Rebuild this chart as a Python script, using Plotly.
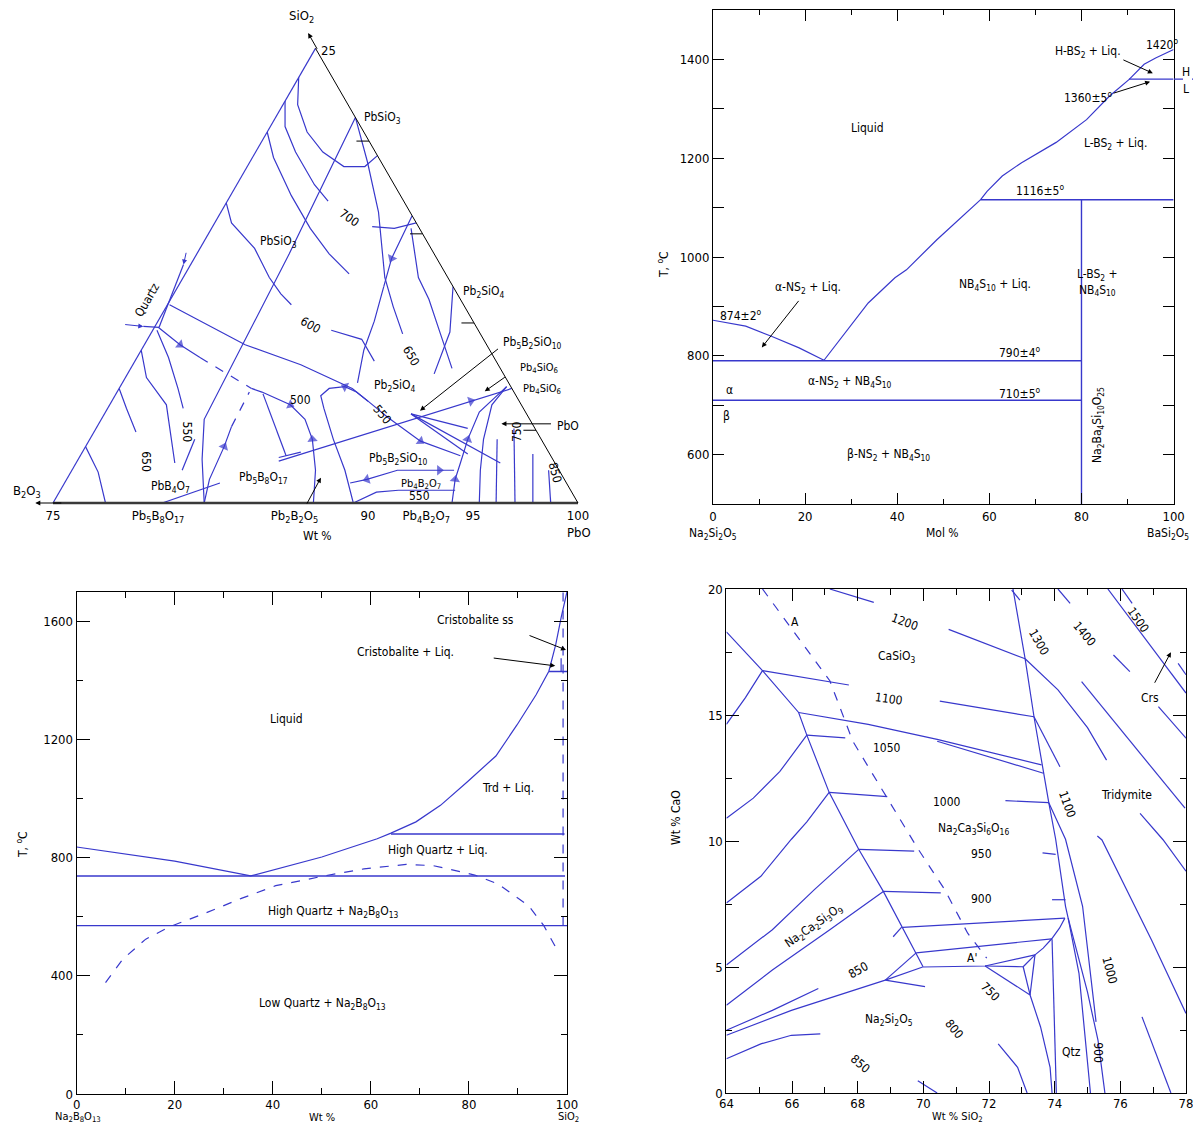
import math
import plotly.graph_objects as go

# page body adds an 8 px margin around the figure
OFF = 8
PAGE_W, PAGE_H = 1201, 1132
W, H = PAGE_W - 2 * OFF, PAGE_H - 2 * OFF
BLUE = '#3838cc'
FONT = 'Liberation Sans Narrow, DejaVu Sans Condensed, Roboto Condensed, Liberation Sans, Arial, sans-serif'

# ---------------- Top-right: Na2Si2O5 - BaSi2O5 (Mol %) ----------------
tr_liq_left_x = [0, 7.1, 12.8, 18.7, 24.1]
tr_liq_left_t = [872, 860, 839, 816, 791]
tr_liq_right_x = [24.1, 33.7, 39.5, 42, 48.6, 55.3, 58.1, 59.5, 62.8, 67, 74.5, 81.1, 86.1, 90.3, 93.6, 96.1, 100]
tr_liq_right_t = [791, 907, 958, 974, 1035, 1093, 1116, 1133, 1164, 1191, 1232, 1278, 1326, 1359, 1390, 1403, 1420]
tr_iso_t = [1116, 790, 710, 1360]
tr_iso_x0 = [58.1, 0, 0, 90.3]
tr_iso_x1 = [100, 80, 80, 100]
tr_compound_x = 80
tr_compound_t = [500, 1116]

# ---------------- Bottom-left: Na2B8O13 - SiO2 (Wt %) ----------------
bl_liq_x = [0, 20, 35.5, 50, 61.3, 64.1, 69.2, 74.2, 79.7, 85.5, 89.8, 93.7, 96.3, 97.7, 98.8, 100]
bl_liq_t = [836, 788, 738, 802, 864, 883, 921, 977, 1057, 1144, 1249, 1351, 1431, 1521, 1612, 1700]
bl_iso_t = [880, 738, 570, 1430]
bl_iso_x0 = [64.1, 0, 0, 96.3]
bl_iso_x1 = [99.5, 99.6, 100, 100]
bl_meta_x = [5.9, 9.4, 14.1, 19.1, 25.8, 33.6, 40.6, 50.8, 58.6, 67.2, 72.7, 81.2, 85.9, 92.2, 95.3, 98.1]
bl_meta_t = [377, 456, 524, 567, 609, 662, 705, 739, 762, 777, 773, 741, 711, 637, 569, 484]
bl_ss_x = [99.2, 99.2]
bl_ss_t = [570, 1700]
bl_box_x = [98.8, 98.8]
bl_box_t = [1430, 1475]

# ---------------- Bottom-right: liquidus projection (Wt % SiO2 vs Wt % CaO) ----------------
br_dashed_x = [65.1, 67.15, 67.85, 69.83, 70.65, 71.35, 71.93]
br_dashed_y = [20, 16.36, 13.96, 9.7, 8.07, 6.34, 5.35]
br_lines = [
    ([64, 65.1, 66.2, 66.45, 67.13, 67.85, 68.03, 68.78, 69.37, 69.78, 69.99],
     [18.3, 16.76, 15.1, 14.2, 11.93, 10.07, 9.67, 8.0, 6.54, 5.57, 5.01]),
    ([65.1, 64.58, 64], [16.76, 15.69, 14.63]),
    ([65.1, 67.73], [16.76, 16.19]),
    ([66.2, 68.32, 70.42, 73.6], [15.1, 14.63, 14.03, 13.02]),
    ([70.42, 73.66], [13.96, 12.69]),
    ([66.45, 67.62], [14.2, 14.09]),
    ([67.13, 68.9], [11.93, 11.76]),
    ([68.03, 69.72], [9.67, 9.6]),
    ([68.78, 70.53], [8.0, 7.94]),
    ([69.37, 74.31], [6.57, 6.94]),
    ([69.78, 73.91], [5.56, 6.12]),
    ([69.98, 71.88, 73.4], [5.0, 5.04, 5.48]),
    ([71.88, 73.04], [5.04, 5.01]),
    ([73.04, 73.4], [5.01, 5.48]),
    ([73.04, 73.25], [5.01, 3.89]),
    ([73.4, 73.25], [5.48, 3.89]),
    ([71.88, 73.25], [5.04, 3.89]),
    ([73.4, 73.65, 73.91, 74.15, 74.31], [5.48, 5.75, 6.12, 6.55, 6.94]),
    ([73.92, 74.05], [6.1, 0]),
    ([73.25, 73.57, 73.86, 73.92], [3.89, 2.62, 1.02, 0]),
    ([72.73, 73.1, 73.37, 73.63, 73.69, 73.82, 74.03, 74.33, 74.41, 74.74, 75.09],
     [20, 17.23, 14.93, 12.92, 12.63, 11.52, 10.07, 7.41, 6.94, 4.75, 0]),
    ([73.82, 74.33, 74.85, 75.26], [11.52, 10.07, 7.41, 2.82]),
    ([74.41, 75.0, 75.32, 75.53], [6.94, 4.0, 2.09, 0]),
    ([73.1, 74.1, 75.0, 75.58], [17.23, 16.0, 14.5, 13.21]),
    ([73.37, 74.16], [14.93, 12.95]),
    ([70.77, 73.1], [18.4, 17.23]),
    ([70.5, 73.37], [15.55, 14.93]),
    ([72.5, 73.82], [11.6, 11.52]),
    ([73.63, 74.03], [9.53, 9.47]),
    ([73.92, 74.33], [7.67, 7.67]),
    ([67.15, 68.49], [20, 19.47]),
    ([72.69, 72.94], [19.96, 19.56]),
    ([74.1, 74.47], [20, 19.43]),
    ([75.62, 78.0], [20, 15.87]),
    ([76.05, 76.36], [20, 19.43]),
    ([75.79, 76.29], [17.38, 16.72]),
    ([74.82, 77.97], [16.32, 11.3]),
    ([77.16, 78.0], [15.33, 14.08]),
    ([77.76, 78.0], [17.05, 16.6]),
    ([76.6, 77.3, 78.0], [11.1, 10.05, 8.8]),
    ([75.3, 75.44, 76.95, 78.0], [10.2, 10.04, 6.07, 3.16]),
    ([76.66, 77.54], [3.02, 0]),
    ([64, 64.82, 65.63, 66.45], [10.9, 11.7, 12.76, 14.2]),
    ([64, 65.05, 65.98, 66.45, 67.13], [7.54, 8.6, 10.07, 10.76, 11.93]),
    ([64, 65.4, 66.68, 68.03], [5.08, 6.48, 8.07, 9.67]),
    ([64, 65.4, 67.15, 68.78], [3.48, 4.88, 6.48, 8.0]),
    ([64, 65.4, 66.8], [2.49, 3.28, 4.15]),
    ([64, 65.98, 68.84], [2.29, 3.28, 4.48]),
    ([68.84, 69.78], [4.48, 5.56]),
    ([68.84, 69.98], [4.48, 5.0]),
    ([68.84, 70.05], [4.48, 4.22]),
    ([69.08, 69.34], [6.2, 6.58]),
    ([64, 65.05, 65.98, 66.86], [1.36, 1.95, 2.29, 2.35]),
    ([69.83, 70.42], [0.49, 0]),
    ([72.28, 72.87, 73.16], [1.95, 1.02, 0]),
]

# ---------------- Top-left: B2O3 - PbO - SiO2 ternary (a = SiO2, c = PbO, wt %) ----------------
tern_solid = [
    ([23.4, 21.9, 20.4, 19.3, 18.5, 18.5, 19.1], [75.0, 75.7, 76.9, 78.2, 79.6, 80.6, 80.9]),
    ([22.1, 20.7, 19.3, 17.5, 16.6], [75.0, 75.7, 76.9, 78.7, 79.8]),
    ([20.4, 19.0, 16.9, 15.1, 13.7, 12.6], [75.0, 76.0, 77.9, 79.7, 81.3, 82.8]),
    ([16.5, 15.4, 14.0, 12.4, 11.5, 10.9], [75.0, 75.8, 77.6, 79.1, 80.1, 80.9]),
    ([21.2, 13.7, 4.6, 2.4, 0], [78.8, 79.4, 79.9, 80.9, 82.2]),
    ([21.2, 18.75, 16.0, 12.4, 10.8, 9.3], [78.8, 80.6, 82.5, 84.6, 85.8, 87.0]),
    ([15.2, 15.1, 15.4], [82.6, 83.7, 84.6]),
    ([15.8, 13.45, 11.9], [84.2, 84.4, 84.8]),
    ([15.1, 12.4, 11.2, 9.3, 7.4], [84.5, 86.2, 87.3, 88.8, 90.3]),
    ([11.9, 9.4, 7.1], [88.1, 89.2, 89.6]),
    ([11.9, 10.0, 8.4, 6.6], [84.8, 85.3, 85.6, 86.2]),
    ([9.5, 9.0, 7.8], [83.5, 85.2, 86.4]),
    ([10.9, 8.7, 7.6, 6.3, 5.6, 4.7, 3.4, 2.6], [75.1, 79.8, 83.0, 86.1, 87.2, 88.6, 90.8, 93.1]),
    ([9.65, 8.7, 8.0], [75.2, 76.7, 78.0]),
    ([6.3, 6.1, 5.4, 4.6, 3.5, 1.8, 0], [81.3, 81.9, 83.6, 84.7, 85.6, 86.6, 87.4]),
    ([5.6, 6.1, 6.4, 6.3, 5.9, 5.2, 3.5, 1.8, 0], [87.2, 86.4, 85.7, 85.0, 84.8, 85.3, 86.6, 88.0, 89.3]),
    ([1.1, 1.3, 1.8, 1.8, 1.8], [88.6, 89.3, 90.5, 92.5, 93.2]),
    ([6.4, 5.0, 3.5, 2.2, 1.3, 0], [93.4, 92.8, 93.0, 93.3, 93.5, 94.0]),
    ([6.4, 5.4, 3.5, 1.8, 0], [93.4, 93.2, 93.75, 94.45, 95.3]),
    ([2.3, 6.3], [84.6, 93.7]),
    ([4.9, 4.1], [89.6, 92.7]),
    ([4.9, 2.2], [89.6, 95.2]),
    ([4.9, 2.7], [89.6, 93.4]),
    ([3.5, 0], [94.4, 96.1]),
    ([4.1, 0], [94.9, 97.0]),
    ([2.7, 0], [96.5, 97.85]),
    ([1.8, 0], [97.7, 98.7]),
    ([8.4, 6.9, 5.4, 2.2], [75.0, 76.0, 77.7, 79.7]),
    ([9.5, 8.0, 6.3, 5.2], [75.2, 76.5, 77.8, 78.6]),
    ([3.5, 1.8], [80.0, 80.25]),
    ([6.3, 5.2, 3.9], [75.0, 75.9, 77.0]),
    ([3.1, 1.7, 0], [75.0, 76.3, 77.5]),
    ([0, 1.3, 3.1, 4.2], [82.2, 81.8, 81.6, 81.4]),
    ([0, 1.1], [80.2, 82.4]),
    ([6.0, 2.6], [82.0, 84.8]),
    ([2.5, 2.8], [84.5, 85.4]),
    ([0, 0.6, 0.7, 0.7], [89.3, 90.1, 91.1, 93.8]),
]
tern_dashed = [([8.0, 6.3], [78.0, 81.3]), ([4.2, 6.1], [81.4, 81.3])]
# arrowheads on boundary curves: (SiO2 prev, PbO prev, SiO2 head, PbO head)
tern_arrows = [
    (15.8, 84.2, 13.45, 84.4), (9.65, 75.2, 8.7, 76.7), (6.1, 81.9, 5.4, 83.6),
    (6.1, 86.4, 6.4, 85.7), (4.7, 88.6, 3.4, 90.8), (1.8, 90.5, 1.3, 89.3),
    (1.8, 90.5, 1.8, 92.5), (1.3, 81.8, 3.1, 81.6), (1.8, 86.6, 3.5, 85.6),
    (0, 94.0, 1.3, 93.5), (2.2, 93.3, 3.5, 93.0), (2.3, 84.6, 5.6, 92.1),
]
tern_edge_marks = [19.9, 14.8, 9.9, 4.0]
tern_base_vals = [25, 20, 13.5, 10, 7.23, 5, 0]   # wt % B2O3 along the base
tern_base_text = ['75', 'Pb<sub>5</sub>B<sub>8</sub>O<sub>17</sub>', 'Pb<sub>2</sub>B<sub>2</sub>O<sub>5</sub>', '90',
                  'Pb<sub>4</sub>B<sub>2</sub>O<sub>7</sub>', '95', '100']

fig = go.Figure()


def add_xy(xs, ys, xa, ya, dash='solid', width=1.2, color=BLUE):
    fig.add_trace(go.Scatter(x=xs, y=ys, mode='lines', xaxis=xa, yaxis=ya,
                             line=dict(color=color, width=width, dash=dash),
                             hoverinfo='skip', showlegend=False))


def add_tern(a, c, dash='solid', width=1.2, color=BLUE):
    b = [100 - ai - ci for ai, ci in zip(a, c)]
    fig.add_trace(go.Scatterternary(a=a, b=b, c=c, mode='lines', subplot='ternary',
                                    line=dict(color=color, width=width, dash=dash),
                                    hoverinfo='skip', showlegend=False))


# top-right
add_xy(tr_liq_left_x, tr_liq_left_t, 'x', 'y')
add_xy(tr_liq_right_x, tr_liq_right_t, 'x', 'y')
for t, x0, x1 in zip(tr_iso_t, tr_iso_x0, tr_iso_x1):
    add_xy([x0, x1], [t, t], 'x', 'y', width=1.4)
add_xy([tr_compound_x, tr_compound_x], tr_compound_t, 'x', 'y', width=1.4)

# bottom-left
add_xy(bl_liq_x, bl_liq_t, 'x2', 'y2')
for t, x0, x1 in zip(bl_iso_t, bl_iso_x0, bl_iso_x1):
    add_xy([x0, x1], [t, t], 'x2', 'y2', width=1.4)
add_xy(bl_meta_x, bl_meta_t, 'x2', 'y2', dash='dash')
add_xy(bl_ss_x, bl_ss_t, 'x2', 'y2', dash='dash')
add_xy(bl_box_x, bl_box_t, 'x2', 'y2')

# bottom-right
add_xy(br_dashed_x, br_dashed_y, 'x3', 'y3', dash='dash')
for xs, ys in br_lines:
    add_xy(xs, ys, 'x3', 'y3')

# ternary
for a, c in tern_solid:
    add_tern(a, c)
for a, c in tern_dashed:
    add_tern(a, c, dash='dash')
for a0, c0, a1, c1 in tern_arrows:
    fig.add_trace(go.Scatterternary(a=[a0, a1], c=[c0, c1], b=[100 - a0 - c0, 100 - a1 - c1],
                                    mode='markers', subplot='ternary', hoverinfo='skip', showlegend=False,
                                    marker=dict(symbol='triangle-up', size=[0, 9], color=BLUE,
                                                angleref='previous', line=dict(width=0))))
for s in tern_edge_marks:
    add_tern([s, s], [100 - s - 0.6, 100 - s], color='black', width=1)


# ---------------- layout (positions given in page pixels) ----------------
def px_dom_x(x0, x1):
    return [(x0 - OFF) / W, (x1 - OFF) / W]


def px_dom_y(top, bottom):
    return [1 - (bottom - OFF) / H, 1 - (top - OFF) / H]


def axis(domain, rng, dtick, mdtick, anchor, ticklen=11, mlen=5, tick0=0, standoff=0):
    return dict(domain=domain, range=rng, anchor=anchor, showline=True, linecolor='black', linewidth=1,
                mirror='ticks', ticks='inside', ticklen=ticklen, tickwidth=1, tickcolor='black',
                dtick=dtick, tick0=tick0, showgrid=False, zeroline=False, ticklabeloverflow='allow',
                ticklabelstandoff=standoff,
                minor=dict(ticks='inside', ticklen=mlen, dtick=mdtick, tick0=tick0, tickcolor='black',
                           showgrid=False),
                tickfont=dict(family=FONT, size=13, color='black'))


TW = 525.0
TH = TW * math.sqrt(3) / 2
tcx, tbot = 315.5, 503.0
tern_x0, tern_x1 = tcx - TW / 2, tcx + TW / 2
tmid = tbot - TH / 2

fig.update_layout(
    width=W, height=H, autosize=False, margin=dict(l=0, r=0, t=0, b=0, pad=0, autoexpand=False),
    paper_bgcolor='white', plot_bgcolor='white', showlegend=False,
    font=dict(family=FONT, size=12, color='black'),
    xaxis=axis(px_dom_x(713, 1173.6), [0, 100], 20, 10, 'y'),
    yaxis=axis(px_dom_y(10, 504), [500, 1500], 200, 100, 'x', ticklen=11, mlen=11),
    xaxis2=axis(px_dom_x(76.6, 567), [0, 100], 20, 10, 'y2', ticklen=13, mlen=6, standoff=-2),
    yaxis2=axis(px_dom_y(591.7, 1094), [0, 1700], 400, 200, 'x2', ticklen=13, mlen=6),
    xaxis3=axis(px_dom_x(726.4, 1186), [64, 78], 2, 1, 'y3', ticklen=12, mlen=6, standoff=-2),
    yaxis3=axis(px_dom_y(589, 1093), [0, 20], 5, 2.5, 'x3', ticklen=13, mlen=6),
    ternary=dict(
        sum=100, bgcolor='white',
        domain=dict(x=px_dom_x(tern_x0, tern_x1), y=px_dom_y(tmid - 235, tmid + 235)),
        aaxis=dict(min=0, showgrid=False, showticklabels=False, ticks='', linecolor=BLUE, linewidth=1.2,
                   title=dict(text='')),
        baxis=dict(min=0, showgrid=False, ticks='', linecolor='#3a3a3a', linewidth=2.5,
                   tickmode='array', tickvals=tern_base_vals, ticktext=tern_base_text,
                   tickfont=dict(family=FONT, size=13, color='black'), title=dict(text='')),
        caxis=dict(min=75, showgrid=False, showticklabels=False, ticks='', linecolor='black', linewidth=1,
                   title=dict(text='')),
    ),
)

ann = []


def A(text, x, y, xref, yref, size=12, angle=0, **kw):
    d = dict(text=text, x=x, y=y, xref=xref, yref=yref, showarrow=False, textangle=angle,
             xanchor='center', yanchor='middle',
             font=dict(family=FONT, size=size, color='black'))
    d.update(kw)
    ann.append(d)


def P(x, y):
    return (x - OFF) / W, 1 - (y - OFF) / H


def T(x, y):
    # place a label drawn relative to the ternary frame
    nx = tcx + (x - tcx) * TW / 535.0
    ny = tbot - (tbot - y) * TH / 448.0
    return P(nx, ny)


def arrow(hx, hy, tx, ty, xref, yref, color='black'):
    ann.append(dict(text='', x=hx, y=hy, xref=xref, yref=yref, showarrow=True, ax=tx, ay=ty,
                    axref='pixel', ayref='pixel', arrowhead=2, arrowsize=1, arrowwidth=1, arrowcolor=color))


# top-right labels
tr_labels = [
    ('Liquid', 33.65, 1262, 0), ('H-BS<sub>2</sub> + Liq.', 81.4, 1414, 0), ('1420<sup>o</sup>', 97.5, 1432, 0),
    ('1360±5<sup>o</sup>', 81.4, 1323, 0), ('L-BS<sub>2</sub> + Liq.', 87.3, 1228, 0),
    ('1116±5<sup>o</sup>', 71, 1135, 0), ('L-BS<sub>2</sub> +<br>NB<sub>4</sub>S<sub>10</sub>', 83.4, 948, 0),
    ('NB<sub>4</sub>S<sub>10</sub> + Liq.', 61.2, 944, 0), ('α-NS<sub>2</sub> + Liq.', 20.6, 938, 0),
    ('874±2<sup>o</sup>', 6.1, 883, 0), ('790±4<sup>o</sup>', 66.65, 808, 0),
    ('α-NS<sub>2</sub> + NB<sub>4</sub>S<sub>10</sub>', 29.7, 746, 0), ('α', 3.5, 731, 0),
    ('710±5<sup>o</sup>', 66.65, 725, 0), ('β', 3.0, 679, 0),
    ('β-NS<sub>2</sub> + NB<sub>4</sub>S<sub>10</sub>', 38, 600, 0),
    ('Na<sub>2</sub>Ba<sub>4</sub>Si<sub>10</sub>O<sub>25</sub>', 83.6, 660, -90),
]
for t, x, y, ang in tr_labels:
    A(t, x, y, 'x', 'y', angle=ang)
arrow(95.5, 1372, -31, -14, 'x', 'y')
arrow(94.9, 1355, -38, 12, 'x', 'y')
arrow(10.6, 817, 38, -48, 'x', 'y')
x, y = P(1186, 72); A('H', x, y, 'paper', 'paper', size=12)
x, y = P(1186, 89); A('L', x, y, 'paper', 'paper', size=12)
fig.add_shape(type='line', xref='paper', yref='y', x0=(1174 - OFF) / W, x1=1.0, y0=1360, y1=1360,
              line=dict(color=BLUE, width=1.2, dash='dash'))
for t, px, py, ang in [('T, <sup>o</sup>C', 663, 265, -90), ('Na<sub>2</sub>Si<sub>2</sub>O<sub>5</sub>', 713, 534, 0),
                       ('Mol %', 942, 533, 0), ('BaSi<sub>2</sub>O<sub>5</sub>', 1168, 534, 0)]:
    x, y = P(px, py); A(t, x, y, 'paper', 'paper', size=12, angle=ang)

# bottom-left labels
bl_labels = [
    ('Cristobalite ss', 81.4, 1605), ('Cristobalite + Liq.', 67.0, 1496), ('Liquid', 42.7, 1269),
    ('Trd + Liq.', 88, 1034), ('High Quartz + Liq.', 73.7, 826),
    ('High Quartz + Na<sub>2</sub>B<sub>8</sub>O<sub>13</sub>', 52.3, 616),
    ('Low Quartz + Na<sub>2</sub>B<sub>8</sub>O<sub>13</sub>', 50.05, 303),
]
for t, x, y in bl_labels:
    A(t, x, y, 'x2', 'y2')
arrow(99.8, 1503, -38, -15, 'x2', 'y2')
arrow(97.6, 1449, -63, -8, 'x2', 'y2')
for t, px, py, ang, sz in [('T, <sup>o</sup>C', 22, 845, -90, 12),
                           ('Na<sub>2</sub>B<sub>8</sub>O<sub>13</sub>', 78, 1117, 0, 11),
                           ('Wt %', 322, 1117, 0, 11), ('SiO<sub>2</sub>', 568, 1117, 0, 11)]:
    x, y = P(px, py); A(t, x, y, 'paper', 'paper', size=sz, angle=ang)

# bottom-right labels
br_labels = [
    ('A', 66.08, 18.69, 0), ('1200', 69.43, 18.69, 20), ('CaSiO<sub>3</sub>', 69.19, 17.29, 0),
    ('1100', 68.96, 15.63, 8), ('1050', 68.9, 13.69, 0), ('1300', 73.51, 17.89, 60),
    ('1400', 74.91, 18.23, 50), ('1500', 76.54, 18.76, 55), ('Crs', 76.89, 15.69, 0),
    ('1000', 70.71, 11.56, 0), ('Na<sub>2</sub>Ca<sub>3</sub>Si<sub>6</sub>O<sub>16</sub>', 71.53, 10.49, 0),
    ('1100', 74.39, 11.43, 70), ('Tridymite', 76.19, 11.83, 0), ('950', 71.76, 9.47, 0),
    ('900', 71.76, 7.7, 0), ('Na<sub>2</sub>Ca<sub>2</sub>Si<sub>3</sub>O<sub>9</sub>', 66.68, 6.61, -35),
    ('850', 68.03, 4.88, -30), ("A'", 71.47, 5.35, 0), ('750', 72.05, 4.02, 45),
    ('1000', 75.67, 4.88, 75), ('Na<sub>2</sub>Si<sub>2</sub>O<sub>5</sub>', 68.96, 2.89, 0),
    ('800', 70.94, 2.55, 50), ('Qtz', 74.5, 1.62, 0), ('900', 75.32, 1.62, 90), ('850', 68.08, 1.16, 40),
]
for t, x, y, ang in br_labels:
    A(t, x, y, 'x3', 'y3', angle=ang)
arrow(77.54, 17.49, -17, 32, 'x3', 'y3')
for t, px, py, ang, sz in [('Wt % CaO', 676, 818, -90, 12), ('Wt % SiO<sub>2</sub>', 957, 1117, 0, 11)]:
    x, y = P(px, py); A(t, x, y, 'paper', 'paper', size=sz, angle=ang)

# ternary labels
tern_labels = [
    ('SiO<sub>2</sub>', 301, 24, 0, 13), ('25', 329, 57, 0, 13), ('PbSiO<sub>3</sub>', 384, 124, 0, 12),
    ('700', 350, 222, 35, 12), ('PbSiO<sub>3</sub>', 278, 246, 0, 12), ('Quartz', 144, 303, -60, 12),
    ('Pb<sub>2</sub>SiO<sub>4</sub>', 487, 295, 0, 12), ('600', 310, 328, 30, 12), ('650', 413, 358, 60, 12),
    ('Pb<sub>5</sub>B<sub>2</sub>SiO<sub>10</sub>', 537, 345, 0, 12), ('Pb<sub>4</sub>SiO<sub>6</sub>', 543, 370, 0, 11),
    ('Pb<sub>4</sub>SiO<sub>6</sub>', 546, 391, 0, 11), ('Pb<sub>2</sub>SiO<sub>4</sub>', 397, 388, 0, 12),
    ('500', 300, 402, 0, 12), ('550', 384, 416, 50, 12), ('750', 521, 433, -90, 12), ('PbO', 573, 427, 0, 12),
    ('550', 185, 433, 90, 12), ('650', 142, 462, 90, 12), ('PbB<sub>4</sub>O<sub>7</sub>', 168, 487, 0, 12),
    ('Pb<sub>5</sub>B<sub>8</sub>O<sub>17</sub>', 263, 478, 0, 12),
    ('Pb<sub>5</sub>B<sub>2</sub>SiO<sub>10</sub>', 400, 460, 0, 12),
    ('Pb<sub>4</sub>B<sub>2</sub>O<sub>7</sub>', 423, 484, 0, 11), ('550', 421, 496, 0, 12),
    ('850', 560, 473, 75, 12), ('B<sub>2</sub>O<sub>3</sub>', 22, 492, 0, 13), ('PbO', 584, 532, 0, 13),
    ('Wt %', 318, 536, 0, 12),
]
for t, px, py, ang, sz in tern_labels:
    x, y = T(px, py)
    A(t, x, y, 'paper', 'paper', size=sz, angle=ang)

for hx, hy, tx, ty in [(422, 412, 503, 350), (488, 393, 510, 378), (505, 425, 557, 425),
                       (321, 478, 306, 505), (308, 40, 318, 57), (30, 503, 58, 503)]:
    x, y = T(hx, hy)
    x2, y2 = T(tx, ty)
    arrow(x, y, (x2 - x) * W, -(y2 - y) * H, 'paper', 'paper')
for hx, hy, tx, ty in [(140, 329, 120, 327), (181, 268, 184, 255)]:
    x, y = T(hx, hy)
    x2, y2 = T(tx, ty)
    arrow(x, y, (x2 - x) * W, -(y2 - y) * H, 'paper', 'paper', color=BLUE)
for (x0p, y0p), (x1p, y1p) in [((140, 329), (156, 330)), ((181, 268), (156, 330))]:
    xa, ya = T(x0p, y0p)
    xb, yb = T(x1p, y1p)
    fig.add_shape(type='line', xref='paper', yref='paper', x0=xa, y0=ya, x1=xb, y1=yb,
                  line=dict(color=BLUE, width=1.2))

fig.update_layout(annotations=ann)
fig.write_html('out.html')
